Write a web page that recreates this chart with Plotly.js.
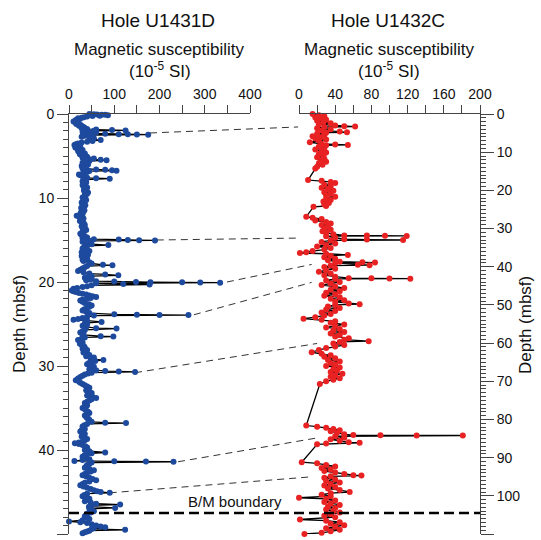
<!DOCTYPE html>
<html>
<head>
<meta charset="utf-8">
<script src="https://cdn.plot.ly/plotly-3.0.1.min.js"></script>
<style>html,body{margin:0;padding:0;background:#fff;}#chart{width:541px;height:540px;}</style>
</head>
<body>
<div id="chart"></div>
<script>
// Hole U1431D: depth (mbsf) and magnetic susceptibility (10^-5 SI)
var u1431dDepth = [
0.0,0.03,0.05,0.08,0.1,0.15,0.2,0.25,0.3,0.38,
0.45,0.52,0.6,0.7,0.8,0.9,1.0,1.1,1.2,1.3,
1.4,1.5,1.6,1.7,1.8,1.85,1.9,1.95,2.0,2.05,
2.1,2.15,2.2,2.25,2.3,2.35,2.4,2.42,2.44,2.46,
2.5,2.6,2.7,2.8,2.9,3.0,3.1,3.2,3.3,3.4,
3.5,3.6,3.7,3.8,3.9,4.0,4.1,4.2,4.3,4.4,
4.5,4.6,4.7,4.8,4.9,5.0,5.1,5.2,5.3,5.4,
5.45,5.5,5.6,5.7,5.8,5.9,6.0,6.1,6.2,6.3,
6.4,6.5,6.6,6.65,6.7,6.75,6.8,6.9,7.0,7.1,
7.2,7.3,7.4,7.5,7.6,7.65,7.7,7.8,7.9,8.0,
8.15,8.3,8.45,8.6,8.75,8.9,9.05,9.2,9.35,9.5,
9.65,9.8,9.95,10.1,10.25,10.4,10.55,10.7,10.85,11.0,
11.15,11.3,11.45,11.6,11.75,11.9,12.0,12.1,12.2,12.3,
12.45,12.6,12.75,12.9,13.05,13.2,13.35,13.5,13.65,13.8,
13.95,14.1,14.25,14.4,14.55,14.7,14.8,14.9,14.95,15.0,
15.02,15.05,15.1,15.2,15.3,15.4,15.5,15.6,15.7,15.85,
16.0,16.15,16.3,16.45,16.6,16.75,16.9,17.05,17.2,17.35,
17.5,17.65,17.8,17.95,18.0,18.1,18.25,18.4,18.55,18.7,
18.85,19.0,19.1,19.2,19.3,19.4,19.5,19.6,19.7,19.8,
19.9,19.95,20.0,20.02,20.04,20.06,20.08,20.15,20.25,20.3,
20.4,20.5,20.6,20.7,20.8,20.9,21.0,21.1,21.2,21.3,
21.4,21.5,21.6,21.7,21.8,21.9,22.0,22.1,22.2,22.35,
22.5,22.65,22.8,22.95,23.1,23.25,23.4,23.55,23.7,23.85,
23.9,23.92,23.94,24.0,24.15,24.3,24.4,24.5,24.6,24.75,
24.9,25.05,25.2,25.35,25.5,25.55,25.7,25.85,26.0,26.15,
26.3,26.45,26.5,26.6,26.75,26.9,27.05,27.2,27.35,27.5,
27.65,27.8,27.95,28.1,28.25,28.4,28.55,28.7,28.85,29.0,
29.15,29.3,29.4,29.5,29.65,29.8,29.95,30.1,30.25,30.4,
30.5,30.6,30.65,30.7,30.8,30.9,31.0,31.15,31.3,31.5,
31.7,31.85,32.0,32.15,32.3,32.45,32.6,32.75,32.9,33.05,
33.2,33.35,33.5,33.65,33.8,33.95,34.1,34.25,34.4,34.55,
34.7,34.85,35.0,35.15,35.3,35.45,35.6,35.75,35.9,36.05,
36.2,36.35,36.5,36.65,36.75,36.8,36.9,37.05,37.2,37.35,
37.5,37.65,37.8,37.95,38.1,38.25,38.4,38.55,38.7,38.85,
39.0,39.1,39.2,39.3,39.4,39.55,39.7,39.85,40.0,40.15,
40.3,40.4,40.5,40.65,40.8,40.95,41.1,41.2,41.3,41.35,
41.38,41.4,41.5,41.65,41.8,41.95,42.1,42.25,42.4,42.55,
42.7,42.85,43.0,43.15,43.3,43.45,43.6,43.75,43.9,44.05,
44.2,44.35,44.5,44.65,44.8,44.9,45.0,45.1,45.2,45.35,
45.5,45.65,45.8,45.95,46.1,46.25,46.4,46.5,46.6,46.75,
46.9,47.0,47.15,47.3,47.45,47.6,47.75,47.9,48.05,48.2,
48.35,48.5,48.6,48.7,48.85,49.0,49.1,49.2,49.3,49.4,
49.5,49.6,49.7,49.8,49.9];
var u1431dMS = [
45,55,62,80,72,86,68,52,40,33,
28,20,24,15,18,10,14,20,16,26,
22,30,34,28,40,60,95,125,55,35,
45,30,60,38,45,80,110,130,150,175,
50,35,28,45,55,48,70,52,40,28,
20,15,12,20,25,14,18,26,30,20,
22,30,35,24,28,36,40,30,55,45,
70,83,45,36,30,38,42,32,28,38,
35,30,60,80,95,105,45,40,34,30,
22,25,30,35,40,60,90,38,34,30,
38,35,30,32,40,38,33,34,42,40,
35,36,30,32,38,35,28,30,36,33,
27,28,34,32,26,30,24,17,22,25,
32,30,24,28,33,35,28,30,36,38,
30,32,25,28,35,40,30,55,110,130,
155,190,45,30,35,42,50,87,40,33,
30,38,45,28,35,42,28,34,40,30,
32,45,50,75,96,40,35,30,25,20,
32,45,80,109,50,40,35,50,45,38,
60,100,148,180,250,290,334,60,120,178,
50,40,30,18,10,14,6,10,15,22,
30,38,45,52,60,48,40,30,25,30,
35,44,50,45,40,34,30,38,45,100,
150,200,264,55,40,30,20,10,40,72,
35,40,30,38,60,105,35,30,25,32,
30,70,98,35,28,20,26,30,24,28,
33,35,30,40,36,32,40,45,38,55,
48,76,58,50,44,40,50,55,48,45,
60,80,110,146,50,42,35,30,25,20,
15,22,25,30,35,40,45,42,38,44,
50,45,40,52,60,50,45,40,35,38,
40,34,30,35,38,42,45,40,35,38,
40,44,45,50,80,126,40,34,30,32,
35,28,25,30,35,30,28,34,40,35,
30,22,13,22,30,36,40,38,35,45,
80,50,40,34,30,38,45,30,12,100,
170,231,50,45,40,38,35,45,55,48,
40,35,30,38,45,52,60,45,35,30,
25,32,40,48,55,62,70,90,40,34,
30,38,45,40,35,48,60,113,50,44,
102,45,50,55,48,40,38,35,40,45,
30,0,25,40,50,60,70,80,55,50,
124,45,40,35,30];

// Hole U1432C: depth (mbsf) and magnetic susceptibility (10^-5 SI)
var u1432cDepth = [0.0,0.3,0.6,0.9,1.2,1.5,1.8,2.1,2.4,2.7,3.0,3.2,3.3,3.4,3.7,4.0,4.3,4.6,4.8,4.9,5.2,5.5,5.8,6.1,6.4,6.7,7.0,7.4,7.8,8.0,8.1,8.2,8.5,8.9,9.3,9.7,10.1,10.5,10.9,11.3,11.7,12.1,12.5,12.9,13.3,13.8,14.3,17.3,17.5,17.8,18.1,18.5,18.9,19.3,19.7,20.1,20.5,20.9,21.3,21.7,22.1,22.5,22.9,23.3,23.7,24.1,24.3,26.9,27.2,27.5,27.9,28.3,28.7,29.1,29.5,29.9,30.3,30.7,31.1,31.5,31.8,31.85,31.9,31.92,32.0,32.4,32.8,32.9,33.0,33.1,33.5,33.9,34.3,34.7,35.1,35.5,35.9,36.2,36.4,36.6,36.9,37.1,37.5,37.9,38.3,38.7,38.85,38.9,39.0,39.5,39.6,39.7,40.1,40.5,40.9,41.3,41.8,42.2,42.6,43.0,43.05,43.1,43.12,43.2,43.6,44.0,44.4,44.8,45.2,45.6,46.0,46.4,46.8,47.2,47.6,48.0,48.4,48.8,49.2,49.6,49.8,50.0,50.4,50.8,51.2,51.6,52.0,52.4,52.8,53.2,53.6,53.9,54.3,54.7,55.1,55.5,55.9,56.3,56.7,57.1,57.5,57.9,58.3,58.7,59.1,59.5,59.7,60.1,60.5,60.9,61.3,61.8,62.4,62.8,63.2,63.6,64.0,64.4,64.8,65.2,65.6,66.0,66.4,66.8,67.2,67.6,68.0,68.4,68.8,69.2,69.6,70.0,70.7,81.6,81.9,82.2,82.5,82.8,83.1,83.5,83.9,84.1,84.15,84.18,84.2,84.4,84.8,85.2,85.6,86.0,86.1,86.3,86.5,91.2,91.5,91.9,92.3,92.7,93.1,93.5,93.9,94.3,94.6,94.7,94.9,95.3,95.7,96.1,96.5,96.9,97.3,97.7,98.1,98.5,99.0,99.3,99.7,100.1,100.5,100.8,101.2,101.6,102.0,102.4,102.8,103.2,103.6,104.0,104.4,104.8,105.2,105.6,106.2,106.5,106.9,107.3,107.7,108.1,108.5,108.9,109.3,109.7,110.0];
var u1432cMS = [15,22,28,18,25,30,20,27,35,22,40,50,62,28,20,35,25,45,53,30,20,28,15,24,18,30,22,12,25,40,54,30,22,28,18,25,30,22,27,20,28,24,30,22,26,20,18,10,25,35,40,28,35,25,32,38,28,35,30,40,30,35,27,33,28,30,16,8,15,25,18,30,35,25,32,28,35,26,30,38,50,75,95,119,30,40,50,75,115,35,25,40,30,20,35,28,15,8,1,30,54,35,28,40,32,45,70,84,40,65,78,35,28,40,30,22,35,28,40,55,80,100,123,40,30,45,35,25,40,50,35,45,30,40,28,45,35,50,40,55,67,40,32,45,30,40,25,35,28,18,5,25,40,35,50,40,30,45,38,50,35,45,40,55,50,77,45,38,50,40,30,22,14,25,35,28,40,32,45,35,40,30,45,38,42,35,48,40,35,45,38,30,23,8,20,30,38,45,35,42,50,60,90,130,181,40,50,35,45,55,67,30,20,3,20,30,40,25,35,28,40,50,60,69,35,28,40,30,45,35,28,40,32,45,56,35,25,35,0,30,40,28,35,45,32,40,30,38,45,35,28,40,1,30,45,35,50,40,30,45,35,25,6];

// Correlation tie points between the holes
var tieU1431dDepth = [2.26, 15.0, 20.0, 23.9, 30.8, 41.4, 45.1];
var tieU1431dMS    = [179, 194, 349, 276, 146, 241, 90];
var tieU1432cDepth = [3.4, 32.5, 39.4, 44.1, 60.1, 84.8, 95.0];
var tieU1432cMS    = [-1, -2, 14, 14, 20, 21, 15];

// Brunhes/Matuyama boundary depth in each hole
var bmDepthU1431D = 47.5;
var bmDepthU1432C = 104.7;

var FONT = 'Liberation Sans, Arial, Helvetica, sans-serif';
var TXT = '#111';
var AX = '#444';

var xDomL = [69/541, 250/541];
var xDomR = [299/541, 480/541];
var yDom = [1 - 534/540, 1 - 114/540];
var xRangeL = [0, 400], xRangeR = [0, 200];
var yRangeL = [50, 0], yRangeR = [110, 0];

function toPaper(v, range, dom) {
  return dom[0] + (v - range[0]) / (range[1] - range[0]) * (dom[1] - dom[0]);
}

var traces = [
  {x: u1431dMS, y: u1431dDepth, xaxis: 'x', yaxis: 'y', type: 'scatter', mode: 'lines+markers',
   line: {color: '#000', width: 1.3}, marker: {color: 'rgb(30,74,158)', size: 6},
   cliponaxis: false, hoverinfo: 'none'},
  {x: u1432cMS, y: u1432cDepth, xaxis: 'x2', yaxis: 'y2', type: 'scatter', mode: 'lines+markers',
   line: {color: '#000', width: 1.3}, marker: {color: 'rgb(232,34,34)', size: 6},
   cliponaxis: false, hoverinfo: 'none'}
];

var shapes = [];
for (var i = 0; i < tieU1431dDepth.length; i++) {
  shapes.push({type: 'line', xref: 'paper', yref: 'paper',
    x0: toPaper(tieU1431dMS[i], xRangeL, xDomL), y0: toPaper(tieU1431dDepth[i], yRangeL, yDom),
    x1: toPaper(tieU1432cMS[i], xRangeR, xDomR), y1: toPaper(tieU1432cDepth[i], yRangeR, yDom),
    line: {color: '#333', width: 1, dash: '7px,5px'}, layer: 'below'});
}
shapes.push({type: 'line', xref: 'paper', yref: 'y',
  x0: xDomL[0], x1: xDomR[1], y0: bmDepthU1431D, y1: bmDepthU1431D,
  line: {color: '#000', width: 2.5, dash: '10px,5px'}});

function xAx(dom, range, anchor, dtick, minorDtick) {
  return {domain: dom, range: range, anchor: anchor, side: 'top', tick0: 0, dtick: dtick,
    ticks: 'outside', ticklen: 8, tickwidth: 1, tickcolor: AX, showline: true, linecolor: AX,
    linewidth: 1, showgrid: false, zeroline: false, fixedrange: true,
    tickfont: {family: FONT, size: 14, color: TXT},
    minor: {dtick: minorDtick, tick0: 0, ticks: 'outside', ticklen: 8, tickwidth: 1, tickcolor: AX, showgrid: false}};
}
function yAx(dom, range, anchor, side, ticklen) {
  return {domain: dom, range: range, anchor: anchor, side: side, tick0: 0, dtick: 10,
    ticks: 'outside', ticklen: ticklen, tickwidth: 1, tickcolor: AX, showline: true, linecolor: AX,
    linewidth: 1, showgrid: false, zeroline: false, fixedrange: true,
    tickfont: {family: FONT, size: 14, color: TXT},
    minor: {dtick: 1, tick0: 0, ticks: 'outside', ticklen: 5, tickwidth: 1, tickcolor: AX, showgrid: false}};
}

function ann(text, x, y, size, angle) {
  return {text: text, x: x, y: y, xref: 'paper', yref: 'paper', xanchor: 'center', yanchor: 'middle',
    showarrow: false, textangle: angle || 0, font: {family: FONT, size: size, color: TXT}};
}

var layout = {
  width: 541, height: 540,
  margin: {l: 0, r: 0, t: 0, b: 0},
  paper_bgcolor: '#fff', plot_bgcolor: 'rgba(0,0,0,0)',
  showlegend: false,
  font: {family: FONT, color: TXT},
  xaxis: xAx(xDomL, xRangeL, 'y', 100, 50),
  yaxis: yAx(yDom, yRangeL, 'x', 'left', 11),
  xaxis2: xAx(xDomR, xRangeR, 'y2', 40, 20),
  yaxis2: yAx(yDom, yRangeR, 'x2', 'right', 13),
  shapes: shapes,
  annotations: [
    ann('Hole U1431D', 158/541, 1 - 21/540, 19),
    ann('Magnetic susceptibility', 159/541, 1 - 50/540, 17),
    ann('(10<sup>-5</sup> SI)', 160/541, 1 - 70/540, 17),
    ann('Hole U1432C', 388/541, 1 - 21/540, 19),
    ann('Magnetic susceptibility', 389/541, 1 - 50/540, 17),
    ann('(10<sup>-5</sup> SI)', 389/541, 1 - 70/540, 17),
    ann('Depth (mbsf)', 19/541, 1 - 324/540, 17, -90),
    ann('Depth (mbsf)', 525/541, 1 - 325/540, 17, -90),
    ann('B/M boundary', 235/541, 1 - 501/540, 15)
  ]
};

Plotly.newPlot('chart', traces, layout, {displayModeBar: false, staticPlot: true});
</script>
</body>
</html>
